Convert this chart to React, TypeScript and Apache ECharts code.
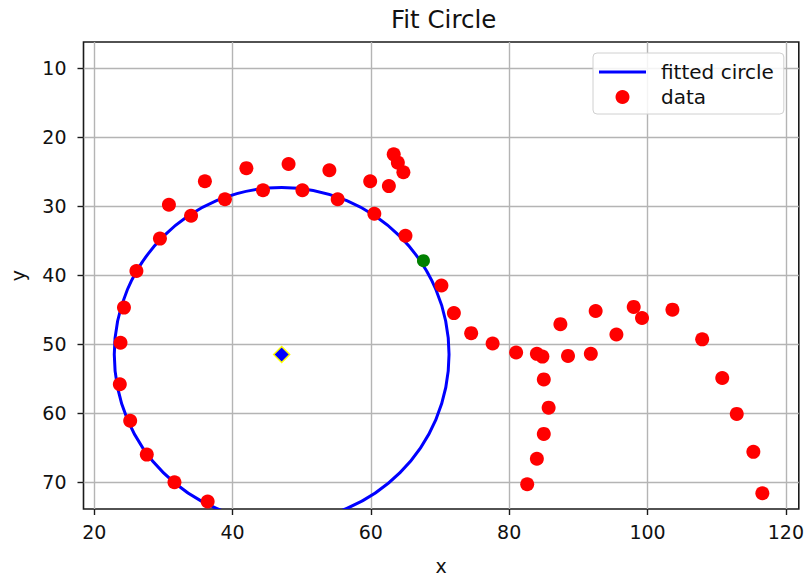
import React, { useEffect, useRef } from "react";
import * as echarts from "echarts";

// ---- data ----
const dataX = [
  24.3, 26.1, 29.5, 30.8, 34.0, 36.0, 38.9, 42.0, 44.4, 48.1, 50.1, 54.0, 55.2,
  59.9, 60.5, 62.6, 63.3, 63.9, 64.7, 65.0, 70.2, 72.0, 74.5, 77.6, 81.0, 84.0,
  84.8, 88.5, 91.8, 87.4, 92.5, 95.5, 98.0, 99.2, 103.6, 107.9, 110.8, 112.9,
  115.3, 116.6, 85.0, 85.7, 85.0, 84.0, 82.6, 23.8, 23.7, 25.2, 27.6, 31.6, 36.4,
];
const dataY = [
  44.7, 39.4, 34.7, 29.8, 31.4, 26.4, 29.0, 24.5, 27.7, 23.9, 27.7, 24.8, 29.0,
  26.4, 31.1, 27.1, 22.5, 23.7, 25.1, 34.3, 41.5, 45.5, 48.4, 49.9, 51.2, 51.4,
  51.8, 51.7, 51.4, 47.1, 45.2, 48.6, 44.6, 46.2, 45.0, 49.3, 54.9, 60.1, 65.6,
  71.6, 55.1, 59.2, 63.0, 66.6, 70.3, 49.8, 55.8, 61.1, 66.0, 70.0, 72.8,
];
const circleCenter = [47.1, 51.5];
const circleRadius = 24.2;
const greenPoint = [67.6, 37.9];
const xTicks = [20, 40, 60, 80, 100, 120];
const yTicks = [10, 20, 30, 40, 50, 60, 70];
const xRange = [18.45, 121.87];
const yRange = [6.22, 73.88];

const FONT = "DejaVu Sans";
const TXT = "#111111";

export default function App() {
  const ref = useRef<HTMLDivElement>(null);
  useEffect(() => {
    if (!ref.current) return;
    const chart = echarts.init(ref.current, undefined, { renderer: "svg" });
    const points = dataX.map((x, i) => [x, dataY[i]]);
    chart.setOption({
      animation: false,
      backgroundColor: "#ffffff",
      title: {
        text: "Fit Circle",
        left: 386,
        top: 2,
        textStyle: { fontFamily: FONT, fontSize: 24.5, fontWeight: "normal", color: TXT },
      },
      legend: {
        left: 593,
        top: 53,
        orient: "vertical",
        padding: [9, 10, 7, 6],
        itemGap: 5,
        itemWidth: 47,
        itemHeight: 14,
        borderColor: "#d0d0d0",
        borderWidth: 1,
        borderRadius: 4,
        backgroundColor: "rgba(255,255,255,0.85)",
        textStyle: { fontFamily: FONT, fontSize: 20, color: TXT, padding: [0, 0, 0, 10] },
        data: [
          { name: "fitted circle", icon: "path://M0,0 L47,0 L47,3.2 L0,3.2 Z" },
          { name: "data", icon: "circle" },
        ],
      },
      grid: {
        left: 83.5,
        right: 4.7,
        top: 42,
        bottom: 67,
        show: true,
        borderColor: "#1a1a1a",
        borderWidth: 1.6,
        containLabel: false,
      },
      xAxis: {
        type: "value",
        min: xRange[0],
        max: xRange[1],
        name: "x",
        nameLocation: "middle",
        nameGap: 47,
        nameTextStyle: { fontFamily: FONT, fontSize: 19, color: TXT },
        axisLine: { show: false },
        axisTick: { show: true, length: 6, customValues: xTicks, lineStyle: { color: "#1a1a1a", width: 1.4 } },
        axisLabel: {
          customValues: xTicks,
          margin: 13,
          fontFamily: FONT,
          fontSize: 19,
          color: TXT,
        },
        splitLine: { show: true, lineStyle: { color: "#b4b4b4", width: 1.4 } },
      },
      yAxis: {
        type: "value",
        inverse: true,
        min: yRange[0],
        max: yRange[1],
        name: "y",
        nameLocation: "middle",
        nameGap: 56,
        nameTextStyle: { fontFamily: FONT, fontSize: 19, color: TXT },
        axisLine: { show: false },
        axisTick: { show: true, length: 6, customValues: yTicks, lineStyle: { color: "#1a1a1a", width: 1.4 } },
        axisLabel: {
          customValues: yTicks,
          margin: 17,
          fontFamily: FONT,
          fontSize: 19,
          color: TXT,
        },
        splitLine: { show: true, lineStyle: { color: "#b4b4b4", width: 1.4 } },
      },
      series: [
        {
          name: "fitted circle",
          type: "custom",
          itemStyle: { color: "#0000ff" },
          encode: { x: 0, y: 1 },
          data: [[circleCenter[0], circleCenter[1], circleRadius]],
          z: 2,
          renderItem: (params: any, api: any) => {
            const c = api.coord([api.value(0), api.value(1)]);
            const s = api.size([api.value(2), api.value(2)]);
            const cs = params.coordSys;
            return {
              type: "ellipse",
              shape: { cx: c[0], cy: c[1], rx: s[0], ry: s[1] },
              style: { fill: "none", stroke: "#0000ff", lineWidth: 3 },
              clipPath: {
                type: "rect",
                shape: { x: cs.x, y: cs.y, width: cs.width, height: cs.height },
              },
            };
          },
        },
        {
          name: "data",
          type: "scatter",
          symbol: "circle",
          symbolSize: 14,
          itemStyle: { color: "#ff0000", opacity: 1 },
          data: points,
          z: 3,
        },
        {
          name: "point",
          type: "scatter",
          symbol: "circle",
          symbolSize: 13,
          itemStyle: { color: "#008000", opacity: 1 },
          data: [greenPoint],
          z: 4,
        },
        {
          name: "center",
          type: "scatter",
          symbol: "diamond",
          symbolSize: 16,
          itemStyle: { color: "#0000ff", borderColor: "#ffff00", borderWidth: 1.5, opacity: 1 },
          data: [circleCenter],
          z: 4,
        },
      ],
    });
    return () => chart.dispose();
  }, []);
  return (
    <div
      ref={ref}
      style={{ position: "absolute", left: 0, top: 0, width: 807, height: 580 }}
    />
  );
}
